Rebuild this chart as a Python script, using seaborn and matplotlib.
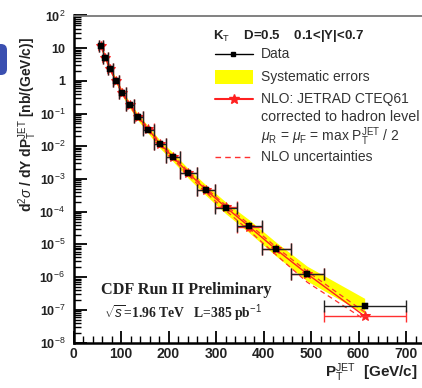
import numpy as np
import pandas as pd
import matplotlib
matplotlib.use("Agg")
import matplotlib.pyplot as plt
import seaborn as sns
from matplotlib.patches import Rectangle, FancyBboxPatch
from matplotlib.ticker import LogLocator, FixedLocator, FixedFormatter, MultipleLocator

# kT D=0.5, 0.1<|Y|<0.7  inclusive jet cross section
bin_lo = [54, 62, 72, 83, 96, 110, 127, 146, 169, 195, 224, 259, 298, 344, 396, 457, 527]
bin_hi = [62, 72, 83, 96, 110, 127, 146, 169, 195, 224, 259, 298, 344, 396, 457, 527, 700]
pt = [58, 67, 77.5, 89.5, 103, 118.5, 136.5, 157.5, 182, 209.5, 241.5, 278.5, 321, 370, 426.5, 492, 613]
data = [11.5, 4.9, 2.28, 1.0, 0.42, 0.18, 0.076, 0.032, 0.0117, 0.0047, 1.5e-3, 4.6e-4,
        1.3e-4, 3.6e-5, 7.2e-6, 1.28e-6, 1.3e-7]
# systematic errors in percent
sys_up = [18, 18, 19, 20, 21, 23, 25, 28, 31, 35, 39, 44, 50, 56, 62, 68, 72]
sys_down = [16, 16, 17, 17, 18, 19, 21, 23, 25, 27, 29, 31, 34, 37, 39, 41, 42]
# NLO JETRAD CTEQ61
nlo = [11.8, 5.0, 2.3, 1.02, 0.43, 0.185, 0.078, 0.033, 0.012, 0.0047, 1.55e-3, 4.7e-4,
       1.35e-4, 3.5e-5, 7.0e-6, 1.25e-6, 6.4e-8]
nlo_hi = [12.6, 5.4, 2.5, 1.1, 0.47, 0.2, 0.085, 0.036, 0.0132, 0.0052, 1.72e-3, 5.3e-4,
          1.55e-4, 4.1e-5, 8.3e-6, 1.5e-6, 8.5e-8]
nlo_lo = [11.0, 4.6, 2.1, 0.93, 0.39, 0.168, 0.07, 0.029, 0.0106, 0.0041, 1.33e-3, 3.9e-4,
          1.08e-4, 2.6e-5, 4.8e-6, 7.0e-7, 5.0e-8]

ytick_vals = [1e-8, 1e-7, 1e-6, 1e-5, 1e-4, 1e-3, 1e-2, 1e-1, 1, 10, 100]
ytick_labels = ["10$^{-8}$", "10$^{-7}$", "10$^{-6}$", "10$^{-5}$", "10$^{-4}$", "10$^{-3}$",
                "10$^{-2}$", "10$^{-1}$", "1", "10", "10$^{2}$"]

df = pd.DataFrame({"pt": pt, "data": data, "nlo": nlo, "lo": bin_lo, "hi": bin_hi})
df["sys_hi"] = df["data"] * (1 + np.array(sys_up) / 100.0)
df["sys_lo"] = df["data"] * (1 - np.array(sys_down) / 100.0)

sns.set_style("ticks")
plt.rcParams["font.family"] = ["Liberation Sans", "DejaVu Sans"]
plt.rcParams["mathtext.fontset"] = "custom"
plt.rcParams["mathtext.rm"] = "Liberation Sans"
plt.rcParams["mathtext.it"] = "Liberation Sans:italic"
plt.rcParams["mathtext.bf"] = "Liberation Sans:bold"

W, H = 422, 388
fig = plt.figure(figsize=(W / 100, H / 100), dpi=100)
fig.patch.set_facecolor("white")

x0, x1, ytop, ybot = 73.5, 434.5, 15.5, 342.5
ax = fig.add_axes([x0 / W, (H - ybot) / H, (x1 - x0) / W, (ybot - ytop) / H])
ax.set_facecolor("white")

# systematic band
ax.fill_between(df["pt"], df["sys_lo"], df["sys_hi"], color="#ffff00", lw=0, zorder=1)

# NLO uncertainties
ax.plot(pt, nlo_hi, color="#ff3030", lw=0.9, ls=(0, (4, 3)), zorder=2)
ax.plot(pt, nlo_lo, color="#ff3030", lw=0.9, ls=(0, (4, 3)), zorder=2)

# NLO prediction
sns.lineplot(data=df, x="pt", y="nlo", color="#ff2020", lw=1.0, marker="*", markersize=7,
             markeredgecolor="#ff2020", ax=ax, zorder=3, legend=False)
ax.errorbar(pt, nlo, xerr=[df["pt"] - df["lo"], df["hi"] - df["pt"]], fmt="none",
            ecolor="#ff3030", elinewidth=1.0, capsize=4, capthick=1.0, zorder=3)

# data
ax.errorbar(pt, data, xerr=[df["pt"] - df["lo"], df["hi"] - df["pt"]], fmt="none",
            ecolor="#222222", elinewidth=1.0, capsize=4, capthick=1.0, zorder=4)
sns.scatterplot(data=df, x="pt", y="data", color="black", marker="s", s=20,
                edgecolor="black", ax=ax, zorder=5, legend=False)

ax.set_yscale("log")
ax.set_ylim(1e-8, 1e2)
ax.set_xlim(0, 760)
ax.set_xlabel("")
ax.set_ylabel("")

ax.yaxis.set_major_locator(FixedLocator(ytick_vals))
ax.yaxis.set_major_formatter(FixedFormatter(ytick_labels))
ax.yaxis.set_minor_locator(LogLocator(base=10, subs=np.arange(2, 10), numticks=20))
ax.xaxis.set_major_locator(MultipleLocator(100))
ax.xaxis.set_minor_locator(MultipleLocator(20))
ax.tick_params(axis="both", which="major", direction="in", length=9, width=1.3, color="black")
ax.tick_params(axis="both", which="minor", direction="in", length=5, width=1.0, color="black")
ax.tick_params(axis="y", which="major", pad=6, labelsize=9)
ax.tick_params(axis="x", which="major", pad=3, labelsize=10)
for lab in ax.get_xticklabels() + ax.get_yticklabels():
    lab.set_fontweight("bold")
    lab.set_color("#222222")

for side in ["left", "bottom"]:
    ax.spines[side].set_linewidth(1.8)
    ax.spines[side].set_color("black")
ax.spines["top"].set_linewidth(1.3)
ax.spines["top"].set_color("#777777")
ax.spines["right"].set_visible(False)

# overlay in pixel coordinates for legend and labels
ov = fig.add_axes([0, 0, 1, 1], facecolor="none")
ov.set_xlim(0, W)
ov.set_ylim(H, 0)
ov.axis("off")

txt = "#333333"
ov.text(213, 36, r"K$_{\mathrm{T}}$    D=0.5    0.1<|Y|<0.7", fontsize=9.5, fontweight="bold",
        color="#222222", va="center", ha="left")
ov.plot([215, 253], [53.5, 53.5], color="black", lw=1)
ov.plot([233], [53.5], marker="s", color="black", ms=3.5)
ov.text(261, 53.5, "Data", fontsize=10, color=txt, va="center")
ov.add_patch(Rectangle((215, 70), 38, 13.5, color="#ffff00", lw=0))
ov.text(261, 77, "Systematic errors", fontsize=10, color=txt, va="center")
ov.plot([215, 253], [98.5, 98.5], color="#ff2020", lw=1.5)
ov.plot([234], [98.5], marker="*", color="#ff2020", ms=7)
ov.text(261, 98.5, "NLO: JETRAD CTEQ61", fontsize=10, color=txt, va="center")
ov.text(261, 117, "corrected to hadron level", fontsize=10.3, color=txt, va="center")
ov.text(261, 137, r"$\mu_{\mathrm{R}}$ = $\mu_{\mathrm{F}}$ = max P$_{\mathrm{T}}^{\mathrm{JET}}$ / 2",
        fontsize=10, color=txt, va="center")
ov.plot([215, 253], [157, 157], color="#ff3030", lw=1, ls=(0, (4, 3)))
ov.text(261, 157, "NLO uncertainties", fontsize=10, color=txt, va="center")

ov.text(101, 290, "CDF Run II Preliminary", fontsize=11.7, fontweight="bold",
        family="Liberation Serif", color="#222222", va="center")
ov.text(104, 313, r"$\sqrt{s}$=1.96 TeV   L=385 pb$^{-1}$", fontsize=9.8, fontweight="bold",
        family="Liberation Serif", color="#222222", va="center")

ov.text(325, 373, r"P$_{\mathrm{T}}^{\mathrm{JET}}$  [GeV/c]", fontsize=11, fontweight="bold",
        color="#222222", va="center", ha="left")
ov.text(28, 124, r"d$^{2}\sigma$ / dY dP$_{\mathrm{T}}^{\mathrm{JET}}$ [nb/(GeV/c)]", fontsize=10,
        fontweight="bold", color="#222222", va="center", ha="center", rotation=90)

ov.add_patch(FancyBboxPatch((-12, 44), 19, 31, boxstyle="round,pad=0,rounding_size=6",
                            color="#3a4fb0", lw=0))

fig.savefig("out.png", dpi=100)
